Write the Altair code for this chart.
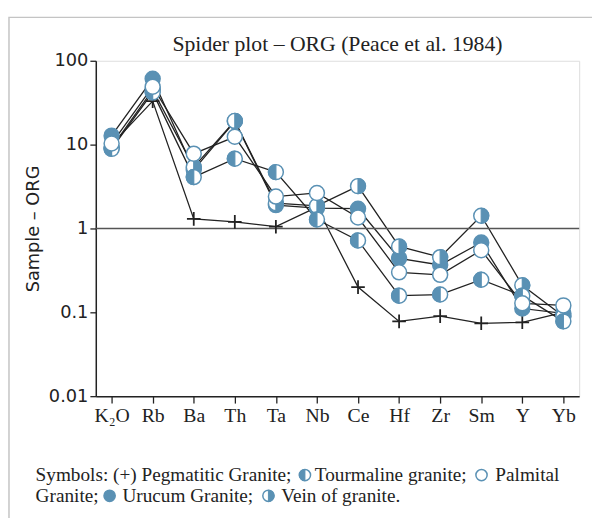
import altair as alt
import pandas as pd

# ---- data ----
elements = ["K₂O", "Rb", "Ba", "Th", "Ta", "Nb", "Ce", "Hf", "Zr", "Sm", "Y", "Yb"]
pegmatitic = [10.0, 33, 1.3, 1.2, 1.05, 1.8, 0.2, 0.078, 0.09, 0.074, 0.076, 0.1]
tourmaline = [8.9, 42, 4.1, 6.8, 4.7, 1.28, 0.72, 0.158, 0.163, 0.245, 0.158, 0.078]
palmital = [10.3, 49, 7.8, 12.4, 2.4, 2.65, 1.35, 0.30, 0.28, 0.55, 0.128, 0.121]
urucum = [12.8, 61, 5.0, 19.0, 1.9, 1.75, 1.72, 0.44, 0.367, 0.68, 0.111, 0.097]
vein = [9.2, 45, 5.4, 19.2, 2.0, 1.86, 3.2, 0.61, 0.455, 1.42, 0.21, 0.09]

series = {
    "Pegmatitic Granite": pegmatitic,
    "Tourmaline granite": tourmaline,
    "Palmital Granite": palmital,
    "Urucum Granite": urucum,
    "Vein of granite": vein,
}

rows = []
for name, vals in series.items():
    for i, (el, v) in enumerate(zip(elements, vals)):
        rows.append({"element": el, "series": name, "value": v, "ord": i})
df = pd.DataFrame(rows)

BLUE = "#5a91b4"
INK = "#222222"
SERIF = "Liberation Serif"
SANS = "DejaVu Sans"
LEFT_HALF = "M0,-1A1,1,0,0,0,0,1Z"
RIGHT_HALF = "M0,-1A1,1,0,0,1,0,1Z"
PLUS = "M-1,0L1,0M0,-1L0,1"
MSIZE = 230

x_enc = alt.X(
    "element:N",
    sort=elements,
    scale=alt.Scale(type="point", padding=0.385),
    axis=alt.Axis(
        title="",
        labelAngle=0,
        labelFont=SERIF,
        labelFontSize=20,
        labelColor=INK,
        tickSize=7,
        tickColor=INK,
        tickWidth=1.3,
        labelPadding=3,
        domainColor=INK,
        domainWidth=1.5,
    ),
)
y_enc = alt.Y(
    "value:Q",
    scale=alt.Scale(type="log", domain=[0.01, 100]),
    axis=alt.Axis(
        values=[0.01, 0.1, 1, 10, 100],
        format="~g",
        grid=False,
        title="Sample – ORG",
        titleFont=SANS,
        titleFontSize=18,
        titleFontWeight="normal",
        titleColor=INK,
        titlePadding=6,
        labelFont=SANS,
        labelFontSize=18,
        labelColor=INK,
        tickSize=6,
        tickColor=INK,
        tickWidth=1.3,
        labelPadding=2,
        domainColor=INK,
        domainWidth=1.5,
    ),
)

base = alt.Chart(df).encode(x=x_enc, y=y_enc)

lines = base.mark_line(color=INK, strokeWidth=1.3).encode(detail="series:N")

one_line = alt.Chart(pd.DataFrame({"v": [1]})).mark_rule(
    color="#555555", strokeWidth=1.6
).encode(y="v:Q")

plus = base.transform_filter(alt.datum.series == "Pegmatitic Granite").mark_point(
    shape=PLUS, filled=False, stroke=INK, strokeWidth=1.8, size=190, opacity=1
)

marker_layers = []
styles = [
    ("Urucum Granite", BLUE, None),
    ("Vein of granite", "white", RIGHT_HALF),
    ("Tourmaline granite", "white", LEFT_HALF),
    ("Palmital Granite", "white", None),
]
for name, fill, half in styles:
    sub = base.transform_filter(alt.datum.series == name)
    marker_layers.append(
        sub.mark_point(
            shape="circle", filled=True, fill=fill, stroke=BLUE,
            strokeWidth=1.5, size=MSIZE, opacity=1,
        )
    )
    if half:
        marker_layers.append(
            sub.mark_point(
                shape=half, filled=True, fill=BLUE, stroke=BLUE,
                strokeWidth=1.2, size=MSIZE, opacity=1,
            )
        )

# ---- title and caption (text placed around the plot) ----
blank = alt.Data(values=[{}])

title_mark = alt.Chart(blank).mark_text(
    text="Spider plot – ORG (Peace et al. 1984)", align="center",
    baseline="alphabetic", font=SERIF, fontSize=22, color=INK,
).encode(x=alt.value(245), y=alt.value(-10))


def cap_text(txt, x, y):
    return alt.Chart(blank).mark_text(
        text=txt, align="left", baseline="middle", font=SERIF,
        fontSize=19.5, color=INK,
    ).encode(x=alt.value(x), y=alt.value(y))


def cap_sym(fill, half, x, y):
    out = [alt.Chart(blank).mark_point(
        shape="circle", filled=True, fill=fill, stroke=BLUE, strokeWidth=1.5,
        size=130, opacity=1,
    ).encode(x=alt.value(x), y=alt.value(y))]
    if half:
        out.append(alt.Chart(blank).mark_point(
            shape=half, filled=True, fill=BLUE, stroke=BLUE, strokeWidth=1,
            size=130, opacity=1,
        ).encode(x=alt.value(x), y=alt.value(y)))
    return out


L1, L2 = 420, 441
caption = [
    cap_text("Symbols: (+) Pegmatitic Granite;", -61, L1),
    *cap_sym("white", LEFT_HALF, 212, L1),
    cap_text("Tourmaline granite;", 222, L1),
    *cap_sym("white", None, 391, L1),
    cap_text("Palmital", 405, L1),
    cap_text("Granite;", -61, L2),
    *cap_sym(BLUE, None, 14, L2),
    cap_text("Urucum Granite;", 27, L2),
    *cap_sym("white", RIGHT_HALF, 175, L2),
    cap_text("Vein of granite.", 188, L2),
]

frame = alt.Chart(blank).mark_rect(
    fill="transparent", stroke="#c4c4c4", strokeWidth=1.5
).encode(x=alt.value(-88), x2=alt.value(530), y=alt.value(-44), y2=alt.value(490))

chart = alt.layer(
    frame, title_mark, lines, one_line, plus, *marker_layers, *caption
).properties(
    width=490,
    height=340,
    autosize=alt.AutoSizeParams(type="none"),
    padding={"left": 89, "top": 50, "right": 13, "bottom": 120},
).configure_view(
    stroke=INK, strokeWidth=1.5
).configure(background="white")

chart.save("out.html", embed_options={"renderer": "svg", "actions": False})
